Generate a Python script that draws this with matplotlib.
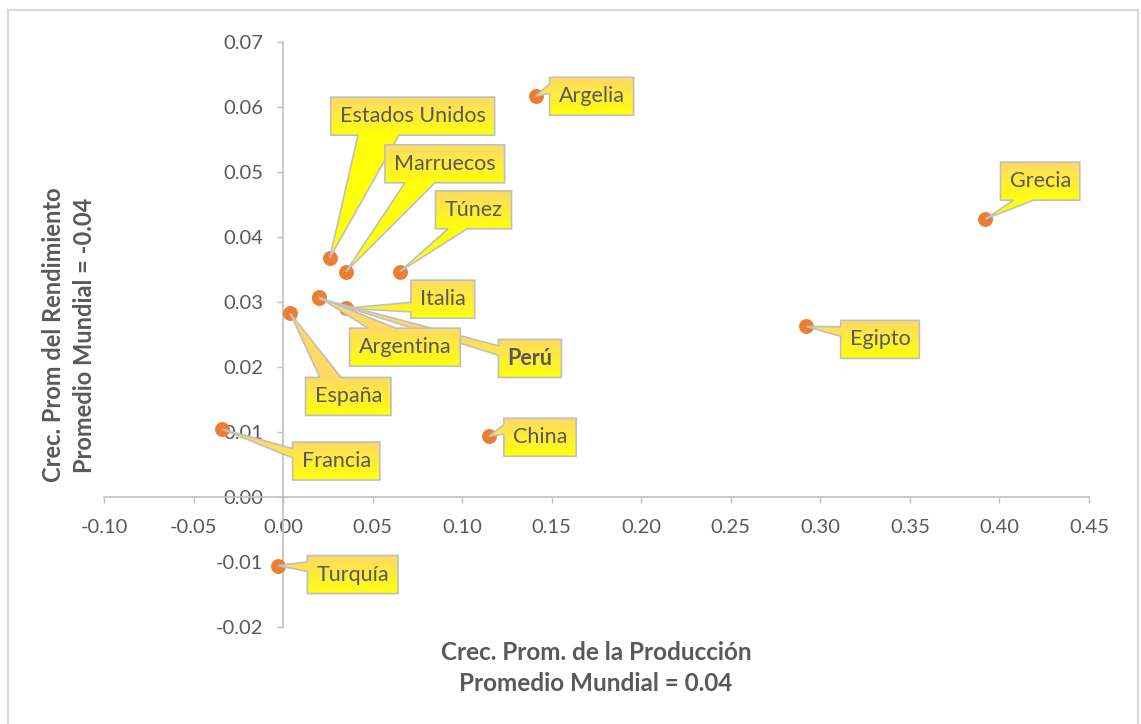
import numpy as np
import matplotlib
matplotlib.use("Agg")
import matplotlib.pyplot as plt
from matplotlib.patches import Rectangle, Polygon

# data
paises = ["Argelia", "Estados Unidos", "Marruecos", "Túnez", "Italia", "Perú", "Argentina",
          "España", "Francia", "China", "Turquía", "Grecia", "Egipto"]
crec_produccion = [0.141, 0.026, 0.035, 0.065, 0.035, 0.020, 0.020,
                   0.004, -0.034, 0.115, -0.003, 0.392, 0.292]
crec_rendimiento = [0.0616, 0.0367, 0.0346, 0.0346, 0.0290, 0.0305, 0.0307,
                    0.0282, 0.0104, 0.0093, -0.0106, 0.0427, 0.0262]
x_ticks = [-0.10, -0.05, 0.00, 0.05, 0.10, 0.15, 0.20, 0.25, 0.30, 0.35, 0.40, 0.45]
y_ticks = [-0.02, -0.01, 0.00, 0.01, 0.02, 0.03, 0.04, 0.05, 0.06, 0.07]

# callout box centre offsets from each point, in pixels (right, down)
label_offsets = {
    "Argelia": (56, 0), "Estados Unidos": (83, -142), "Marruecos": (99, -108),
    "Túnez": (74, -62), "Italia": (97, -9), "Argentina": (86, 50), "Perú": (211, 60),
    "España": (58, 83), "Francia": (114, 32), "China": (51, 1), "Turquía": (75, 9),
    "Grecia": (55, -38), "Egipto": (74, 13),
}

TEXT = "#595959"
GRID = "#bfbfbf"
plt.rcParams["font.family"] = ["Lato", "DejaVu Sans"]
plt.rcParams["axes.unicode_minus"] = False

W, H = 1141, 724
fig = plt.figure(figsize=(W / 100, H / 100), dpi=100)
ax = fig.add_axes([104 / W, 1 - 626.7 / H, (1089 - 104) / W, (626.7 - 41.7) / H])
ax.patch.set_alpha(0)

ax.scatter(crec_produccion, crec_rendimiento, s=115, color="#ED7D31", zorder=3, linewidths=0)

ax.set_xlim(-0.10, 0.45)
ax.set_ylim(-0.02, 0.07)
ax.set_xticks(x_ticks)
ax.set_yticks(y_ticks)
ax.xaxis.set_major_formatter(matplotlib.ticker.FormatStrFormatter("%.2f"))
ax.yaxis.set_major_formatter(matplotlib.ticker.FormatStrFormatter("%.2f"))
for side in ("top", "right"):
    ax.spines[side].set_visible(False)
for side in ("left", "bottom"):
    ax.spines[side].set_position(("data", 0))
    ax.spines[side].set_color(GRID)
    ax.spines[side].set_linewidth(1.2)
ax.tick_params(axis="both", colors=GRID, labelcolor=TEXT, labelsize=14.5, length=4.5, width=1)
ax.tick_params(axis="x", pad=11.5)
ax.tick_params(axis="y", pad=10)

anns = []
for i, (name, xv, yv) in enumerate(zip(paises, crec_produccion, crec_rendimiento)):
    dx, dy = label_offsets[name]
    ann = ax.annotate(
        name, xy=(xv, yv), xytext=(dx * 0.72, -dy * 0.72), textcoords="offset points",
        ha="center", va="center", fontsize=15.5, color=TEXT,
        fontweight="bold" if name == "Perú" else "normal",
        zorder=10 + 3 * i + 2,
    )
    anns.append(ann)


def callout_vertices(l, b, r, t, tx, ty):
    """Outline of an Excel-style wedge callout (display coords, y up)."""
    w, h = r - l, t - b
    cx, cy = (l + r) / 2, (b + t) / 2
    right = tx > cx
    below = ty < cy
    xg1, xg2 = (7, 10) if right else (2, 5)
    yg1, yg2 = (7, 10) if below else (2, 5)
    x1, x2 = l + w * xg1 / 12, l + w * xg2 / 12
    y1, y2 = t - h * yg2 / 12, t - h * yg1 / 12
    tip = (tx, ty)
    if abs(tx - cx) / w > abs(ty - cy) / h:
        if right:
            return [(l, b), (r, b), (r, y1), tip, (r, y2), (r, t), (l, t)]
        return [(l, b), (r, b), (r, t), (l, t), (l, y2), tip, (l, y1)]
    if below:
        return [(l, b), (x1, b), tip, (x2, b), (r, b), (r, t), (l, t)]
    return [(l, b), (r, b), (r, t), (x2, t), tip, (x1, t), (l, t)]


# callout shapes with a vertical gradient fill
fig.canvas.draw()
renderer = fig.canvas.get_renderer()
inv = ax.transData.inverted()
top_c = np.array([255, 217, 102]) / 255
bot_c = np.array([255, 255, 10]) / 255
box_h = 38
for i, (ann, name, xv, yv) in enumerate(zip(anns, paises, crec_produccion, crec_rendimiento)):
    dx, dy = label_offsets[name]
    px, py = ax.transData.transform((xv, yv))
    cx, cy = px + dx, py - dy
    tw = ann.get_window_extent(renderer).width
    l, r = cx - tw / 2 - 9, cx + tw / 2 + 9
    b, t = cy - box_h / 2, cy + box_h / 2
    verts = np.array(callout_vertices(l, b, r, t, px, py))
    poly = Polygon(inv.transform(verts), closed=True, fc="none", ec=GRID, lw=1.2,
                   zorder=10 + 3 * i + 1)
    ax.add_patch(poly)
    ymin, ymax = verts[:, 1].min(), verts[:, 1].max()
    rows = np.linspace(ymax, ymin, 200)
    frac = np.clip((t - rows) / box_h, 0, 1)[:, None]
    grad = (top_c * (1 - frac) + bot_c * frac)[:, None, :]
    (ex0, ey0), (ex1, ey1) = inv.transform([(verts[:, 0].min(), ymin), (verts[:, 0].max(), ymax)])
    im = ax.imshow(grad, extent=(ex0, ex1, ey0, ey1), aspect="auto", origin="upper",
                   interpolation="bilinear", zorder=10 + 3 * i)
    im.set_clip_path(poly)

ax.set_xlim(-0.10, 0.45)
ax.set_ylim(-0.02, 0.07)

fig.text(596 / W, 1 - 668 / H, "Crec. Prom. de la Producción\nPromedio Mundial = 0.04",
         ha="center", va="center", fontsize=17.5, fontweight="bold", color=TEXT,
         linespacing=1.45)
fig.text(69 / W, 1 - 335 / H, "Crec. Prom del Rendimiento\nPromedio Mundial = -0.04",
         ha="center", va="center", rotation=90, fontsize=17, fontweight="bold",
         color=TEXT, linespacing=1.45)

fig.patches.append(Rectangle((8 / W, -0.05), 1130 / W, 1.05 - 10 / H, transform=fig.transFigure,
                             fill=False, ec="#d9d9d9", lw=1.5))

fig.savefig("out.png", dpi=100, facecolor="white")
